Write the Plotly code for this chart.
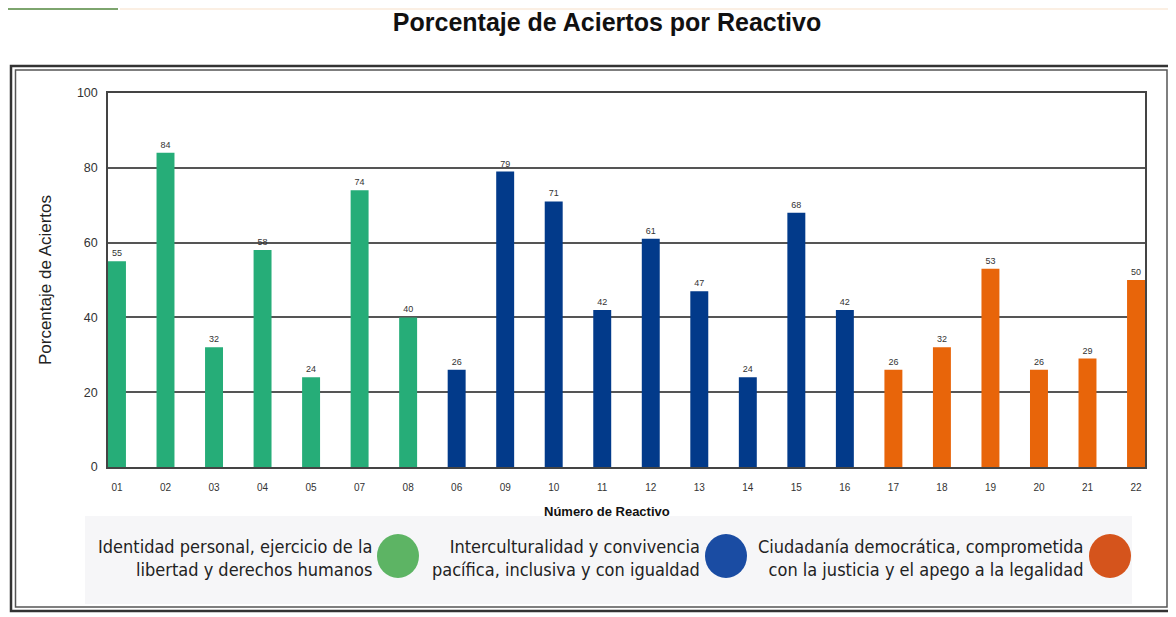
import plotly.graph_objects as go

# Reactivos agrupados por eje temático
ejes = [
    "Identidad personal, ejercicio de la<br>libertad y derechos humanos",
    "Interculturalidad y convivencia<br>pacífica, inclusiva y con igualdad",
    "Ciudadanía democrática, comprometida<br>con la justicia y el apego a la legalidad",
]
reactivos_1 = ["01", "02", "03", "04", "05", "07", "08"]
aciertos_1 = [55, 84, 32, 58, 24, 74, 40]
reactivos_2 = ["06", "09", "10", "11", "12", "13", "14", "15", "16"]
aciertos_2 = [26, 79, 71, 42, 61, 47, 24, 68, 42]
reactivos_3 = ["17", "18", "19", "20", "21", "22"]
aciertos_3 = [26, 32, 53, 26, 29, 50]

colores = ["#26AD78", "#023A8A", "#E8650A"]
colores_bola = ["#5DB464", "#1A4CA3", "#D5541C"]

# la página añade 8 px de margen al cuerpo: coordenadas de página -> figura
OFF = 8
W, H = 1176 - OFF, 617 - OFF
L, R, T, B = 108 - OFF, 1145 - OFF, 93 - OFF, 467 - OFF


def px(x):
    return (x - OFF - L) / (R - L)


def py(y):
    return (B - (y - OFF)) / (B - T)


fig = go.Figure()
for cats, vals, col in [(reactivos_1, aciertos_1, colores[0]),
                        (reactivos_2, aciertos_2, colores[1]),
                        (reactivos_3, aciertos_3, colores[2])]:
    fig.add_trace(go.Bar(
        x=cats, y=vals, width=0.37,
        marker=dict(color=col, line=dict(width=0)),
        text=[str(v) for v in vals], textposition="outside",
        textfont=dict(size=9, color="#333333", family="Liberation Sans"),
        cliponaxis=False, showlegend=False,
    ))

orden = reactivos_1 + reactivos_2 + reactivos_3

fig.update_layout(
    width=W, height=H,
    margin=dict(l=L, r=W - R, t=T, b=H - B),
    paper_bgcolor="white", plot_bgcolor="white",
    barmode="overlay",
    font=dict(family="Liberation Sans", color="#333333"),
    title=dict(text="<b>Porcentaje de Aciertos por Reactivo</b>",
               x=(607 - OFF) / W, xanchor="center", y=1 - (22 - OFF) / H,
               yanchor="middle", font=dict(size=25, color="#111111")),
    xaxis=dict(type="category", categoryorder="array", categoryarray=orden,
               range=[-0.185, 21.185], showgrid=False, ticks="",
               ticklabelstandoff=10,
               showline=True, linecolor="#444444", linewidth=1.5, mirror=True,
               tickfont=dict(size=10, color="#333333")),
    yaxis=dict(range=[0, 100], tickvals=[0, 20, 40, 60, 80, 100],
               showgrid=True, gridcolor="#555555", gridwidth=1.5,
               showline=True, linecolor="#444444", linewidth=1.5, mirror=True,
               zeroline=False, ticks="", ticklabelstandoff=6,
               tickfont=dict(size=12.5, color="#333333"),
               title=dict(text="Porcentaje de Aciertos", standoff=21,
                          font=dict(size=17, color="#222222"))),
)

shapes = []
# franja superior decorativa
shapes.append(dict(type="rect", xref="paper", yref="paper", layer="below",
                   x0=px(120), x1=px(1176), y0=py(8), y1=py(10),
                   fillcolor="#FBEFE3", line=dict(width=0)))
shapes.append(dict(type="rect", xref="paper", yref="paper", layer="below",
                   x0=px(8), x1=px(118), y0=py(8), y1=py(10),
                   fillcolor="#7DA56E", line=dict(width=0)))
# marco doble exterior
shapes.append(dict(type="rect", xref="paper", yref="paper", layer="below",
                   x0=px(11), x1=px(1171), y0=py(611), y1=py(66),
                   line=dict(color="#333333", width=2.5)))
shapes.append(dict(type="rect", xref="paper", yref="paper", layer="below",
                   x0=px(15.5), x1=px(1167), y0=py(607), y1=py(70),
                   line=dict(color="#555555", width=1.5)))
# caja de la leyenda
shapes.append(dict(type="rect", xref="paper", yref="paper", layer="below",
                   x0=px(85), x1=px(1132), y0=py(604), y1=py(516),
                   fillcolor="#F6F6F8", line=dict(width=0)))

annotations = [dict(text="<b>Número de Reactivo</b>", xref="paper", yref="paper",
                    x=px(607), y=py(511), xanchor="center", yanchor="middle",
                    showarrow=False, font=dict(size=13, color="#111111"))]
bolas_x = [398, 726, 1110]
textos_x = [374, 702, 1086]
for eje, bx, tx, cb in zip(ejes, bolas_x, textos_x, colores_bola):
    shapes.append(dict(type="circle", xref="paper", yref="paper",
                       x0=px(bx - 21), x1=px(bx + 21),
                       y0=py(578), y1=py(534),
                       fillcolor=cb, line=dict(color=cb, width=0)))
    annotations.append(dict(text=eje, xref="paper", yref="paper",
                            x=px(tx), y=py(558), xanchor="right", yanchor="middle",
                            align="right", showarrow=False,
                            font=dict(family="Liberation Sans Narrow, DejaVu Sans Condensed, Liberation Sans",
                                      size=18, color="#222222")))

fig.update_layout(shapes=shapes, annotations=annotations)

fig.write_html("out.html")
